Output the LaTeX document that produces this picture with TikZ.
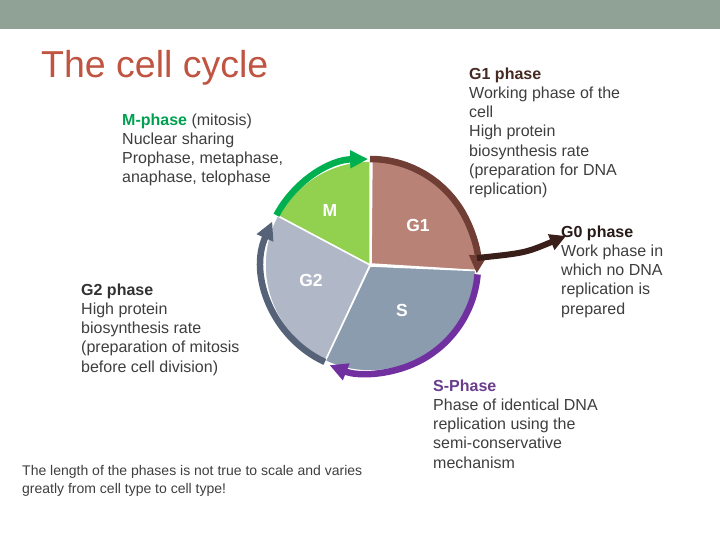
\documentclass[tikz,border=0pt]{standalone}
\usepackage{fontspec}
\setmainfont{Liberation Sans}
\usetikzlibrary{arrows.meta}
\definecolor{topbar}{RGB}{144,161,150}
\definecolor{titlered}{RGB}{192,84,66}
\definecolor{bodytxt}{RGB}{62,62,62}
\definecolor{mfill}{RGB}{146,208,80}
\definecolor{gonefill}{RGB}{185,130,118}
\definecolor{sfill}{RGB}{140,156,175}
\definecolor{gtwofill}{RGB}{176,184,199}
\definecolor{marrow}{RGB}{0,176,80}
\definecolor{gonearrow}{RGB}{112,62,52}
\definecolor{sarrow}{RGB}{112,48,160}
\definecolor{gtwoarrow}{RGB}{86,98,120}
\definecolor{gzeroarrow}{RGB}{58,30,26}
\definecolor{mtxt}{RGB}{0,160,80}
\definecolor{stxt}{RGB}{105,60,140}
\definecolor{gonetxt}{RGB}{70,42,34}
\definecolor{gzerotxt}{RGB}{40,26,22}
\definecolor{gtwotxt}{RGB}{50,50,50}
\tikzset{
  blocktxt/.style={anchor=north west, inner sep=0pt, align=left, text=bodytxt,
    font=\fontsize{16}{19.2}\selectfont},
  notetxt/.style={anchor=north west, inner sep=0pt, align=left, text=bodytxt,
    font=\fontsize{14}{17.5}\selectfont},
  wedgelbl/.style={inner sep=0pt, text=white, font=\bfseries\fontsize{17.5}{20}\selectfont},
  wedge/.style={draw=white, line width=1.5pt, line join=round},
  cyclearrow/.style={line width=6.5pt, -{Triangle[length=18pt,width=17pt]}},
}
\begin{document}
\begin{tikzpicture}[x=1pt,y=-1pt]
\useasboundingbox (0,0) rectangle (720,540);
\fill[topbar] (0,0) rectangle (720,29);
\node[anchor=base west, inner sep=0pt, text=titlered, font=\fontsize{37.5}{45}\selectfont] (title) at (41,78) {The cell cycle};

\begin{scope}[shift={(370,265)}, yscale=-1]
  \filldraw[wedge, fill=gonefill] (1,1) -- (-3:108) arc[start angle=-3, end angle=89.5, radius=107] -- cycle;
  \filldraw[wedge, fill=mfill] (0,0) -- (90:104) arc[start angle=90, end angle=152, radius=104] -- cycle;
  \filldraw[wedge, fill=gtwofill] (0,0) -- (152:105) arc[start angle=152, end angle=245, radius=105] -- cycle;
  \filldraw[wedge, fill=sfill] (0,-1) -- (245:106) arc[start angle=245, end angle=357, radius=106] -- cycle;
  \draw[cyclearrow, marrow] (152:106) arc[start angle=152, end angle=91, radius=106];
  \draw[cyclearrow, gonearrow] (90:106) arc[start angle=90, end angle=-4, radius=107];
  \draw[cyclearrow, sarrow] (-5:108) arc[start angle=-5, end angle=-112, radius=108];
  \draw[cyclearrow, gtwoarrow] (245:107) arc[start angle=245, end angle=156, radius=107];
\end{scope}

\node[wedgelbl] (lm) at (330,210) {M};
\node[wedgelbl] (lg1) at (418,225) {G1};
\node[wedgelbl] (lg2) at (311,280) {G2};
\node[wedgelbl] (ls) at (402,310) {S};

\node[blocktxt] (g1txt) at (469,67.5) {\textcolor{gonetxt}{\bfseries G1 phase}\\Working phase of the\\cell\\High protein\\biosynthesis rate\\(preparation for DNA\\replication)};
\node[blocktxt] (mtxt) at (122,113.5) {\textcolor{mtxt}{\bfseries M-phase} (mitosis)\\Nuclear sharing\\Prophase, metaphase,\\anaphase, telophase};
\node[blocktxt] (g2txt) at (81,283.5) {\textcolor{gtwotxt}{\bfseries G2 phase}\\High protein\\biosynthesis rate\\(preparation of mitosis\\before cell division)};
\node[blocktxt] (stxt) at (433,379.5) {\textcolor{stxt}{\bfseries S-Phase}\\Phase of identical DNA\\replication using the\\semi-conservative\\mechanism};
\node[blocktxt] (g0txt) at (561,225.5) {\textcolor{gzerotxt}{\bfseries G0 phase}\\Work phase in\\which no DNA\\replication is\\prepared};
\node[notetxt] (note) at (22,465.5) {The length of the phases is not true to scale and varies\\greatly from cell type to cell type!};

\coordinate (g0from) at (477,258);
\coordinate (g0to) at (566,236);
\draw[gzeroarrow, line width=6pt, -{Triangle[length=16pt,width=16pt]}] (g0from) .. controls (525,253) .. (g0to);
\end{tikzpicture}
\end{document}
